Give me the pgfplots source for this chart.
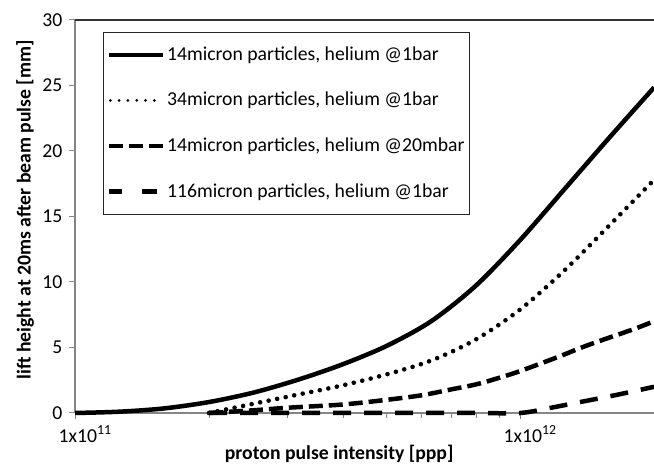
\documentclass[border=0pt]{standalone}
\usepackage{fontspec}
\setmainfont{Carlito}
\usepackage{pgfplots}
\pgfplotsset{compat=1.18}
\definecolor{axgray}{RGB}{134,134,134}
\newcommand\chartfont{\fontsize{19.7pt}{23.6pt}\selectfont}
\begin{document}
\chartfont
\begin{tikzpicture}
\begin{axis}[
  at={(0,0)}, anchor=south west,
  scale only axis, width=579pt, height=393pt,
  xmode=log, xmin=1e11, xmax=2e12, ymin=0, ymax=30,
  xtick={1e11,1e12},
  xticklabels={1x10\textsuperscript{11},1x10\textsuperscript{12}},
  minor xtick={2e11,3e11,4e11,5e11,6e11,7e11,8e11,9e11},
  ytick={0,5,10,15,20,25,30},
  tick align=outside, xtick pos=bottom, ytick pos=left,
  major tick length=6pt, minor tick length=5pt,
  tick style={draw=axgray, line width=1pt},
  axis line style={draw=none},
  /pgf/number format/assume math mode=true,
  ticklabel style={font=\chartfont},
  xticklabel style={xshift=10pt},
  clip=false,
  xlabel={\textbf{proton pulse intensity [ppp]}},
  xlabel style={at={(axis description cs:0.456,0)}, anchor=base, yshift=-47pt, font=\chartfont},
  ylabel={\textbf{lift height at 20ms after beam pulse [mm]}},
  ylabel style={at={(axis description cs:-0.0864,0.517)}, anchor=center, rotate=0, font=\chartfont},
  legend style={at={(axis description cs:0.0484,0.9695)}, anchor=north west,
    draw=black!85, line width=1pt, fill=white,
    font=\chartfont,
    inner xsep=3pt, inner ysep=12pt, row sep=25pt,
    nodes={inner sep=2pt}},
  legend cell align=left,
  legend image code/.code={\draw[#1] (0pt,0pt) -- (54pt,0pt);},
]
\draw[axgray, line width=1.2pt] (rel axis cs:0,0) -- (rel axis cs:0,1);
\draw[axgray, line width=1.2pt] (rel axis cs:0,0) -- (rel axis cs:1,0);
\draw[black!80, line width=1.2pt] (rel axis cs:0,1) -- (rel axis cs:1,1);

\addplot[black, line width=4.5pt, smooth, line join=round] coordinates {
 (1e11,0) (1.259e11,0.1) (1.585e11,0.35) (1.995e11,0.83) (2.512e11,1.55)
 (3.162e11,2.53) (3.981e11,3.70) (5.012e11,5.12) (6.31e11,7.0)
 (7.943e11,9.7) (1e12,13.2) (1.259e12,17.1) (1.585e12,21.0) (2e12,24.85)};
\addlegendentry{14micron particles, helium @1bar}

\addplot[black, line width=4.6pt, line cap=round, dash pattern=on 0pt off 8.7pt, smooth,
  legend image code/.code={\draw[black, line width=3pt, line cap=round, dash pattern=on 0pt off 8.8pt] (1.5pt,0pt) -- (50pt,0pt);}] coordinates {
 (2e11,0) (2.512e11,0.7) (3.162e11,1.4) (3.981e11,2.1) (5.012e11,2.95)
 (6.31e11,4.0) (7.943e11,5.6) (1e12,7.9) (1.259e12,10.9) (1.585e12,14.3)
 (2e12,17.8)};
\addlegendentry{34micron particles, helium @1bar}

\addplot[black, line width=4.5pt, dash pattern=on 14pt off 6pt, smooth] coordinates {
 (2e11,0) (2.5e11,0.2) (3e11,0.4) (4e11,0.65) (5e11,1.0) (6e11,1.35)
 (7e11,1.8) (8e11,2.2) (9e11,2.7) (1e12,3.2) (1.2e12,4.2) (1.4e12,5.1)
 (1.6e12,5.8) (1.8e12,6.4) (2e12,7.0)};
\addlegendentry{14micron particles, helium @20mbar}

\addplot[black, line width=4.5pt, dash pattern=on 18pt off 13pt, smooth,
  legend image code/.code={\draw[black, line width=4.5pt, dash pattern=on 13.5pt off 20pt on 15pt off 20pt] (0pt,0pt) -- (48.5pt,0pt);}] coordinates {
 (2e11,0) (4e11,0) (6e11,0) (8e11,0) (1e12,0) (1.173e12,0.4) (1.395e12,0.9)
 (1.657e12,1.4) (2e12,2.0)};
\addlegendentry{116micron particles, helium @1bar}
\end{axis}
\pgfresetboundingbox
\path (-75pt,-53pt) rectangle (579pt,413pt);
\end{tikzpicture}
\end{document}
